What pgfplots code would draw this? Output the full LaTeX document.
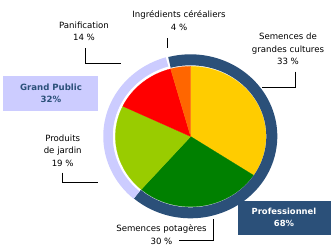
\documentclass[border=0pt]{standalone}
\usepackage{pgfplots}
\pgfplotsset{compat=1.18}
\usepackage{fontspec}
\setmainfont{DejaVu Sans}
\definecolor{cYel}{HTML}{FFCC00}
\definecolor{cGrn}{HTML}{008000}
\definecolor{cLim}{HTML}{99CC00}
\definecolor{cRed}{HTML}{FF0000}
\definecolor{cOra}{HTML}{FF6600}
\definecolor{cDark}{HTML}{2B5079}
\definecolor{cLav}{HTML}{CCCCFF}
\begin{document}
\begin{tikzpicture}
% shares (percent of the circle), clockwise from the top
\pgfmathsetmacro{\sA}{34.3}% Semences de grandes cultures
\pgfmathsetmacro{\sB}{27.1}% Semences potageres
\pgfmathsetmacro{\sC}{20.7}% Produits de jardin
\pgfmathsetmacro{\sD}{13.6}% Panification
\pgfmathsetmacro{\sE}{4.3}% Ingredients cerealiers
\pgfmathsetmacro{\aO}{90}
\pgfmathsetmacro{\aA}{\aO-3.6*\sA}
\pgfmathsetmacro{\aB}{\aA-3.6*\sB}
\pgfmathsetmacro{\aC}{\aB-3.6*\sC}
\pgfmathsetmacro{\aD}{\aC-3.6*\sD}
\pgfmathsetmacro{\aE}{\aD-3.6*\sE}
% ring: Professionnel 65.5, Grand Public 34.5
\pgfmathsetmacro{\rP}{65.5}
\pgfmathsetmacro{\rS}{105}
\pgfmathsetmacro{\rM}{\rS-3.6*\rP}
\pgfmathsetmacro{\rE}{\rS-360+1.5}
\begin{axis}[
  hide axis, scale only axis,
  width=335pt, height=250pt,
  xmin=0, xmax=335, ymin=0, ymax=250, y dir=reverse,
  clip=false, anchor=south west, at={(0pt,0pt)},
]
\addplot[fill=cYel, draw=cYel, line width=0.2pt, domain=\aA:\aO, samples=80, variable=\t] ({190.7+75.3*cos(\t)},{136.5-70.2*sin(\t)}) -- (axis cs:190.7,136.5) -- cycle;
\addplot[fill=cGrn, draw=cGrn, line width=0.2pt, domain=\aB:\aA, samples=80, variable=\t] ({190.7+75.3*cos(\t)},{136.5-70.2*sin(\t)}) -- (axis cs:190.7,136.5) -- cycle;
\addplot[fill=cLim, draw=cLim, line width=0.2pt, domain=\aC:\aB, samples=80, variable=\t] ({190.7+75.3*cos(\t)},{136.5-70.2*sin(\t)}) -- (axis cs:190.7,136.5) -- cycle;
\addplot[fill=cRed, draw=cRed, line width=0.2pt, domain=\aD:\aC, samples=60, variable=\t] ({190.7+75.3*cos(\t)},{136.5-70.2*sin(\t)}) -- (axis cs:190.7,136.5) -- cycle;
\addplot[fill=cOra, draw=cOra, line width=0.2pt, domain=\aE:\aD, samples=30, variable=\t] ({190.7+75.3*cos(\t)},{136.5-70.2*sin(\t)}) -- (axis cs:190.7,136.5) -- cycle;
% outer ring
\addplot[draw=cDark, line width=11pt, domain=\rM:\rS, samples=120, variable=\t] ({190.5+81.3*cos(\t)},{136.3-76.5*sin(\t)});
\addplot[draw=cLav, line width=9.5pt, domain=\rE:\rM, samples=80, variable=\t] ({190.5+82.5*cos(\t)},{136.3-77.6*sin(\t)});
% leader lines
\draw[black, line width=1pt] (axis cs:167.3,38) -- (axis cs:167.3,48.3);
\draw[black, line width=1pt] (axis cs:85.7,48) -- (axis cs:85.7,63.3) -- (axis cs:120.7,63.3);
\draw[black, line width=1pt] (axis cs:295.7,71.7) -- (axis cs:295.7,87.3) -- (axis cs:261.7,87.3);
\draw[black, line width=1pt] (axis cs:62.3,172.7) -- (axis cs:62.3,182.7) -- (axis cs:98.3,182.7);
\draw[black, line width=1pt] (axis cs:179,240) -- (axis cs:213.3,240) -- (axis cs:213.3,219.3);
% labels
\tikzset{lab/.style={font=\fontsize{8.6}{12.3}\selectfont, align=center, inner sep=0pt, text=black}}
\node[lab, anchor=center] at (axis cs:179,20.5) {Ingrédients céréaliers\\4 \%};
\node[lab, anchor=center] at (axis cs:84,31.5) {Panification\\14 \%};
\node[lab, anchor=center] at (axis cs:288,49) {Semences de\\grandes cultures\\33 \%};
\node[lab, anchor=center] at (axis cs:62.7,150.7) {Produits\\de jardin\\19 \%};
\node[lab, anchor=center] at (axis cs:161.5,234.5) {Semences potagères\\30 \%};
% boxes
\fill[cLav] (axis cs:3.3,76) rectangle (axis cs:97.7,110.7);
\node[font=\fontsize{8.6}{12}\selectfont\bfseries, align=center, text=cDark, inner sep=0pt] at (axis cs:51,93.3) {Grand Public\\32\%};
\fill[cDark] (axis cs:237.7,201) rectangle (axis cs:331,235);
\node[font=\fontsize{8.4}{12}\selectfont\bfseries, align=center, text=white, inner sep=0pt] at (axis cs:284,217.7) {Professionnel\\68\%};
\end{axis}
\pgfresetboundingbox
\path[use as bounding box] (0pt,0pt) rectangle (335pt,250pt);
\end{tikzpicture}
\end{document}
